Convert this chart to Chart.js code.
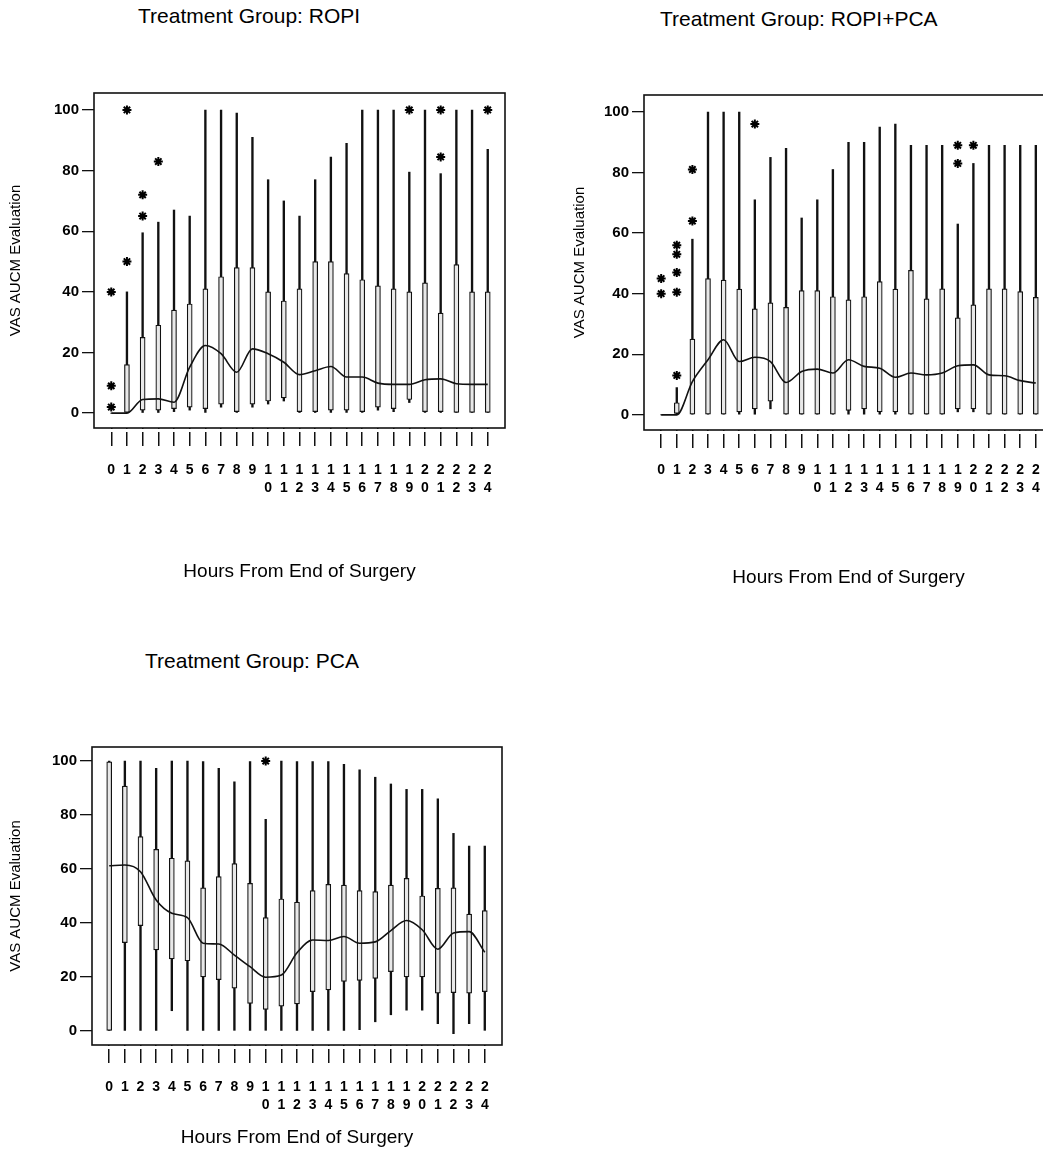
<!DOCTYPE html>
<html><head><meta charset="utf-8">
<script src="https://cdn.jsdelivr.net/npm/chart.js@4.4.0/dist/chart.umd.min.js"></script>
<style>
html,body{margin:0;padding:0;background:#fff;width:1043px;height:1170px;overflow:hidden;position:relative;}
.panel{position:absolute;}
.ttl{position:absolute;font-family:'Liberation Sans',Arial,sans-serif;font-size:21px;color:#000;white-space:nowrap;line-height:24px;}
</style></head><body>
<div class="ttl" style="left:138px;top:4px">Treatment Group: ROPI</div>
<div class="ttl" style="left:660px;top:7px">Treatment Group: ROPI+PCA</div>
<div class="ttl" style="left:145px;top:649px">Treatment Group: PCA</div>
<div class="panel" style="left:0;top:0;width:520px;height:600px"><canvas id="c1"></canvas></div>
<div class="panel" style="left:560px;top:0;width:560px;height:600px"><canvas id="c2"></canvas></div>
<div class="panel" style="left:0;top:640px;width:520px;height:530px"><canvas id="c3"></canvas></div>
<script>
// ---- data ----
const HOURS = [0,1,2,3,4,5,6,7,8,9,10,11,12,13,14,15,16,17,18,19,20,21,22,23,24];
const Y_TICKS = [0,20,40,60,80,100];

// ROPI
const ropiMin  = [0,0,0,0,0.5,1,0,2,0,2,3,4,0,0,0,0,0,1,0.5,3.5,0,0,0,0,0];
const ropiQ1   = [0,0,1,1,1.5,2,1.5,3,0.5,3,4,5,0.5,0.5,1,1,0.5,2,1.5,4.5,0.5,0.5,0,0,0];
const ropiQ3   = [0,16,25,29,34,36,41,45,48,48,40,37,41,50,50,46,44,42,41,40,43,33,49,40,40];
const ropiMax  = [0,40,59.5,63,67,65,100,100,99,91,77,70,65,77,84.5,89,100,100,100,79.5,100,79,100,100,87];
const ropiMean = [0,0,4.5,4.7,3.6,15.2,22.3,19.6,13.5,21.2,19.6,16.8,12.7,14,15.4,11.9,11.9,9.9,9.5,9.5,11,11.3,9.7,9.5,9.5];
const ropiOutX = [0,0,0,1,1,2,2,3,19,21,21,24];
const ropiOutY = [40,9,2,100,50,72,65,83,100,100,84.5,100];

// ROPI+PCA
const rpMin  = [0,0,0,0,0,0,0,2,0,0,0,0,0,0,0,0,0,0,0,1,1,0,0,0,0];
const rpQ1   = [0,0.5,0,0,0,1,2,4.5,0,0,0,0,1.5,2,1,1,0,0,0,2,2,0,0,0,0];
const rpQ3   = [0,4,25,45,44.5,41.5,35,37,35.5,41,41,39,38,39,44,41.5,47.7,38.3,41.6,32,36.3,41.6,41.6,40.7,38.8];
const rpMax  = [0,9,58,100,100,100,71,85,88,65,71,81,90,90,95,96,89,89,89,63,83,89,89,89,89];
const rpMean = [0,0,11,18.2,24.8,17.6,19,17.6,10.7,14.3,15.1,13.8,18.2,16,15.4,12.4,13.8,13.2,13.8,16.2,16.5,13.2,12.9,11.3,10.5];
const rpOutX = [0,0,1,1,1,1,1,2,2,6,19,19,20];
const rpOutY = [45,40,56,53,47,40.5,13,81,64,96,89,83,89];

// PCA
const pcaMin  = [0,0,0,0,7.5,0,0,0,0,0,0,0,0,0,0,0,0.5,3.4,6,7.7,7.7,2.7,-1,2.7,0];
const pcaQ1   = [0,32.7,39,30,26.7,26,20,19,15.9,10.2,8,9.2,10,14.6,15.2,18.4,18.7,19.5,22,20,20,14,14.2,14,14.6];
const pcaQ3   = [99.7,90.7,72,67.3,64,63,53,57.2,62,54.7,42,48.9,47.7,52,54.3,54,52,51.6,54,56.5,50,52.8,53,43.3,44.6];
const pcaMax  = [100,100,100,97.3,100,100,99.8,97.3,92.3,99.8,78.4,100,99.8,99.8,99.8,98.8,96.7,94,91.5,89.5,89.5,86,73.2,68.5,68.5];
const pcaMean = [61.2,61.5,59,48.5,43.6,42,32.5,32.2,28.1,23.8,19.9,20.7,29,33.7,33.5,35,32.5,33,37.2,40.9,37.5,30.3,36.3,36.8,29.2];
const pcaOutX = [10];
const pcaOutY = [100];

// two-row hour labels (tens digit on first row, ones below)
const X_LABELS = HOURS.map(h => h < 10 ? [String(h)] : [String(h).charAt(0), String(h).charAt(1)]);

const FONT = "'Liberation Sans',Arial,sans-serif";
const INK = '#111';

const framePlugin = {
  id: 'frame',
  afterDraw(c) {
    const a = c.chartArea, ctx = c.ctx;
    ctx.save();
    ctx.fillStyle = '#fff';
    ctx.fillRect(a.left - 1, a.bottom + 1, a.right - a.left + 2, 3);
    ctx.strokeStyle = INK;
    ctx.lineWidth = 1.6;
    ctx.strokeRect(a.left, a.top, a.right - a.left, a.bottom - a.top);
    ctx.restore();
  }
};

function makePanel(id, mn, q1, q3, mx, mean, ox, oy, g) {
  const whisk = HOURS.map((h, i) => ({x: h, y: [mn[i], mx[i]]}));
  const box = HOURS.map((h, i) => ({x: h, y: [q1[i], q3[i]]}));
  const ln = HOURS.map((h, i) => ({x: h, y: mean[i]}));
  const out = ox.map((x, i) => ({x: x, y: oy[i]}));
  new Chart(document.getElementById(id), {
    type: 'bar',
    data: {datasets: [
      {type: 'line', data: ln, borderColor: INK, borderWidth: 1.6, pointRadius: 0,
       cubicInterpolationMode: 'monotone', fill: false, order: 0},
      {type: 'scatter', data: out, pointStyle: 'star', pointRadius: 4.5,
       pointBorderColor: '#000', pointBorderWidth: 2, pointBackgroundColor: '#000',
       borderColor: '#000', order: 1},
      {type: 'bar', data: box, backgroundColor: '#e8e8e8', borderColor: INK, borderWidth: 1.2,
       barThickness: 5, grouped: false, borderSkipped: false, order: 2},
      {type: 'bar', data: whisk, backgroundColor: INK, borderWidth: 0,
       barThickness: 1.7, grouped: false, order: 3}
    ]},
    options: {
      animation: false, responsive: true, maintainAspectRatio: false,
      layout: {padding: {top: g.top, right: g.right, left: 0, bottom: 0}},
      plugins: {legend: {display: false}, tooltip: {enabled: false}, title: {display: false}},
      scales: {
        x: {
          type: 'linear', min: -1.1, max: 25.1, offset: false,
          afterBuildTicks: s => { s.ticks = HOURS.map(v => ({value: v})); },
          afterFit: s => { s.height = g.xh; },
          grid: {offset: false, drawOnChartArea: false, drawTicks: true, tickLength: 18, color: INK, lineWidth: 1.5},
          border: {display: false},
          ticks: {autoSkip: false, maxRotation: 0, minRotation: 0, padding: g.xpad, color: '#000',
                  font: {family: FONT, size: 14, weight: 'bold', lineHeight: 1.3},
                  callback: v => X_LABELS[v]},
          title: {display: true, text: 'Hours From End of Surgery', color: '#000',
                  font: {family: FONT, size: 19, lineHeight: 1.2}, padding: {top: 0, bottom: g.xtp}}
        },
        y: {
          min: g.ymin, max: g.ymax,
          afterBuildTicks: s => { s.ticks = Y_TICKS.map(v => ({value: v})); },
          afterFit: s => { s.width = g.yw; },
          grid: {drawOnChartArea: false, drawTicks: true, tickLength: 12, color: INK, lineWidth: 1.3},
          border: {display: false},
          ticks: {padding: 3, color: '#000', font: {family: FONT, size: 15, weight: 'bold'}},
          title: {display: true, text: 'VAS AUCM Evaluation', color: '#000',
                  font: {family: FONT, size: 15, lineHeight: 1.2}, padding: {top: g.ytp, bottom: 0}}
        }
      }
    },
    plugins: [framePlugin]
  });
}

makePanel('c1', ropiMin, ropiQ1, ropiQ3, ropiMax, ropiMean, ropiOutX, ropiOutY,
  {top: 93, right: 15, xh: 172, yw: 94, xpad: 15, xtp: 16.6, ytp: 7, ymin: -4.9, ymax: 105.6});
makePanel('c2', rpMin, rpQ1, rpQ3, rpMax, rpMean, rpOutX, rpOutY,
  {top: 95, right: 67, xh: 170, yw: 84, xpad: 13, xtp: 10.6, ytp: 11, ymin: -5, ymax: 105.6});
makePanel('c3', pcaMin, pcaQ1, pcaQ3, pcaMax, pcaMean, pcaOutX, pcaOutY,
  {top: 107, right: 18, xh: 125, yw: 92, xpad: 15, xtp: 20.6, ytp: 7, ymin: -5.2, ymax: 105.2});
</script>
</body></html>
